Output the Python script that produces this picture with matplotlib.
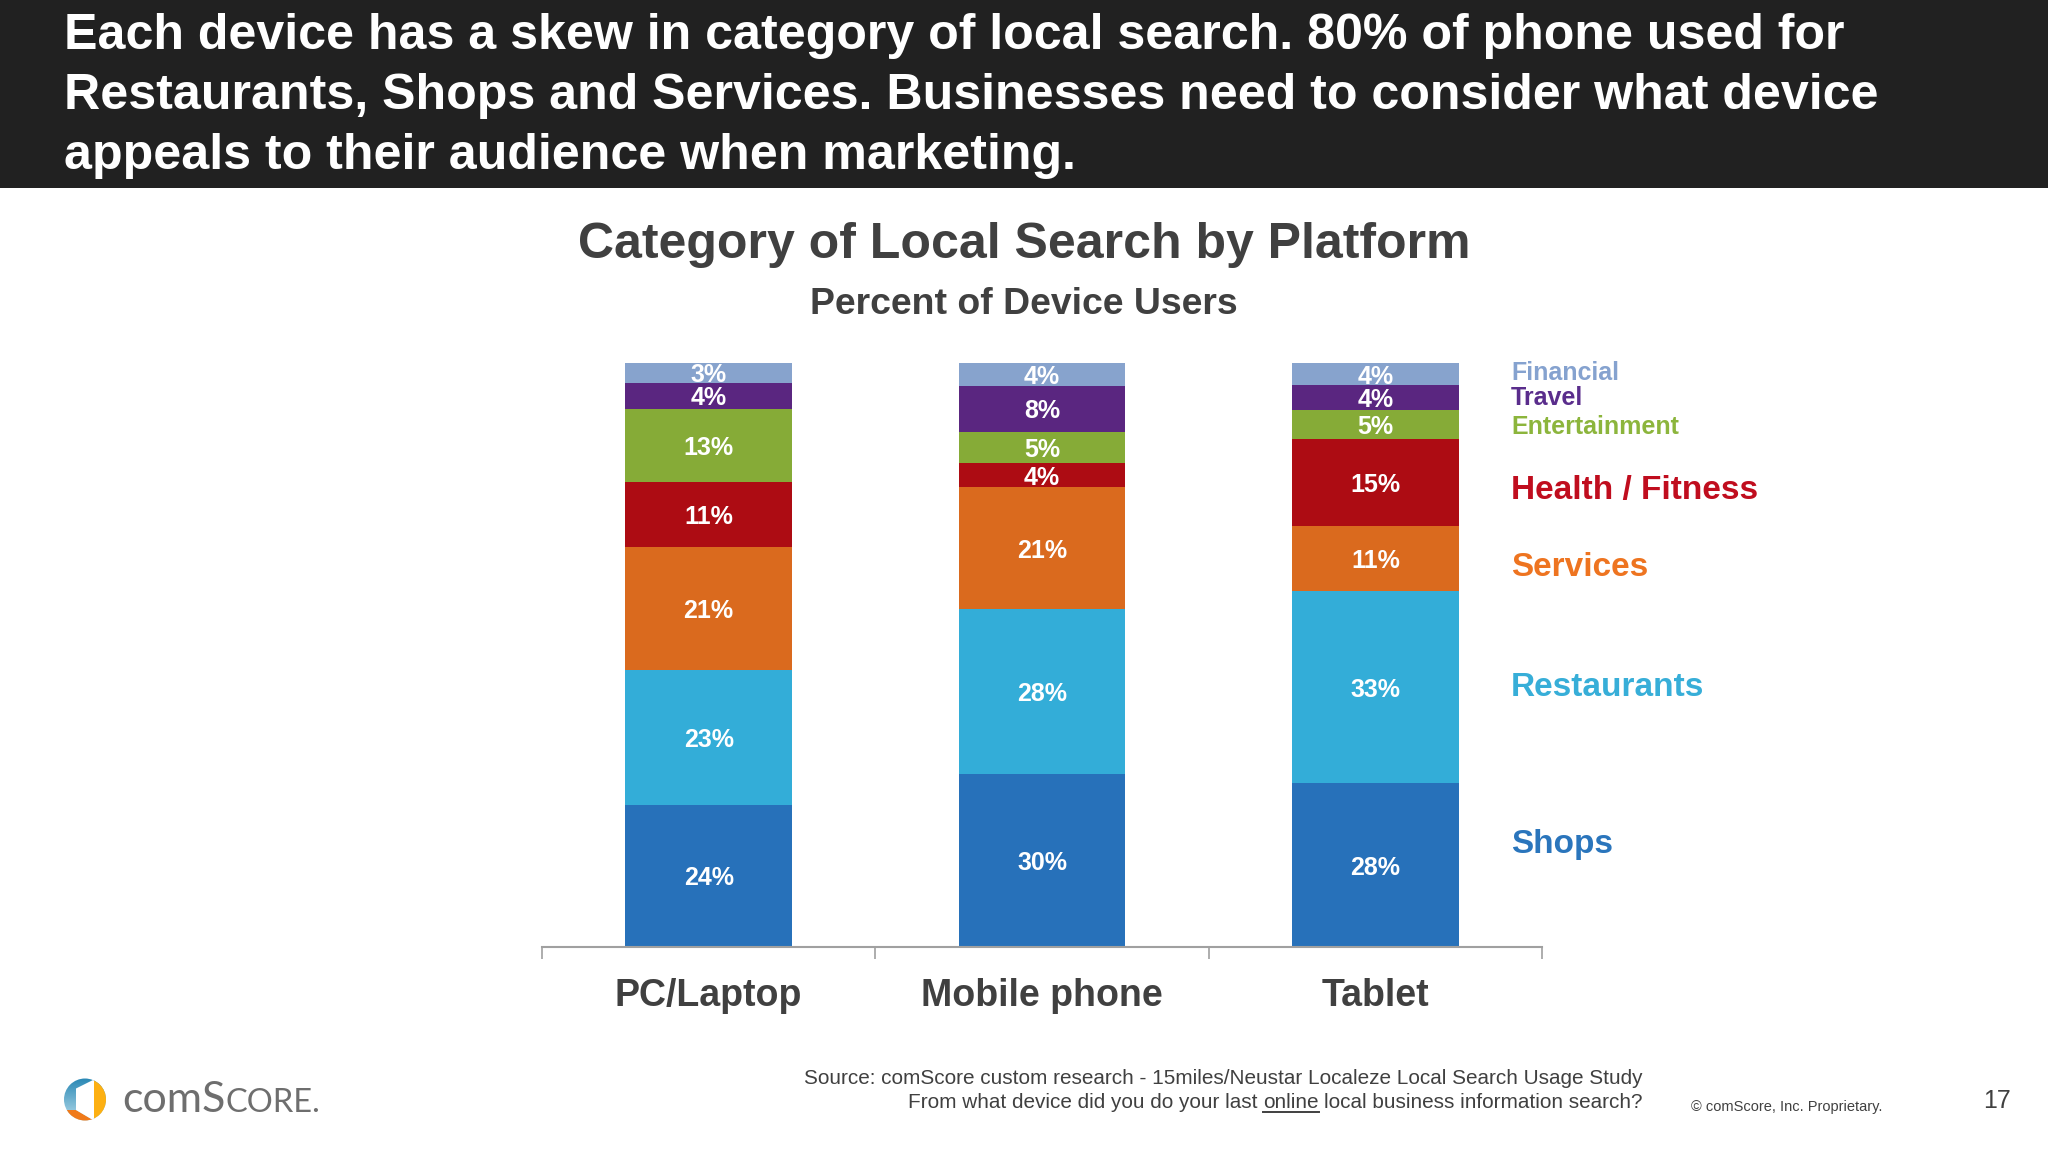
import numpy as np
import matplotlib
matplotlib.use('Agg')
import matplotlib.pyplot as plt
from matplotlib.colors import LinearSegmentedColormap
from matplotlib.patches import Circle, Polygon, Rectangle

W, H = 2048, 1152

# chart data, bottom segment first
platforms = ['PC/Laptop', 'Mobile phone', 'Tablet']
shops = [24.4, 29.6, 28.0]
restaurants = [23.0, 28.2, 33.0]
services = [21.1, 20.9, 11.1]
health = [11.1, 4.2, 14.9]
entertainment = [12.5, 5.3, 5.0]
travel = [4.5, 7.9, 4.2]
financial = [3.4, 3.9, 3.8]

# printed labels (source percentages are rounded)
shops_labels = ['24%', '30%', '28%']
restaurants_labels = ['23%', '28%', '33%']
services_labels = ['21%', '21%', '11%']
health_labels = ['11%', '4%', '15%']
entertainment_labels = ['13%', '5%', '5%']
travel_labels = ['4%', '8%', '4%']
financial_labels = ['3%', '4%', '4%']

headline = ['Each device has a skew in category of local search. 80% of phone used for',
            'Restaurants, Shops and Services. Businesses need to consider what device',
            'appeals to their audience when marketing.']

plt.rcParams['font.family'] = ['Liberation Sans', 'DejaVu Sans']

fig = plt.figure(figsize=(W / 100, H / 100), dpi=100, facecolor='white')

# full-slide axes in pixels for everything that isn't the chart
bg = fig.add_axes([0, 0, 1, 1])
bg.set_xlim(0, W)
bg.set_ylim(H, 0)
bg.axis('off')

bg.add_patch(Rectangle((0, 0), W, 188, color='#212121', lw=0))
for line, y in zip(headline, [49, 109, 169]):
    bg.text(64, y, line, color='white', fontsize=36.1, fontweight='bold', va='baseline')

bg.text(1024, 245, 'Category of Local Search by Platform', color='#404040',
        fontsize=36, fontweight='bold', ha='center', va='center')
bg.text(1024, 305, 'Percent of Device Users', color='#404040',
        fontsize=26.9, fontweight='bold', ha='center', va='center')

# stacked bars
ax = fig.add_axes([542 / W, 1 - 947 / H, 1000 / W, 584 / H])
ax.patch.set_alpha(0)
series = [
    (shops, shops_labels, '#2771BA'),
    (restaurants, restaurants_labels, '#33ADD8'),
    (services, services_labels, '#DA6A1E'),
    (health, health_labels, '#AD0C13'),
    (entertainment, entertainment_labels, '#86AB37'),
    (travel, travel_labels, '#5A2680'),
    (financial, financial_labels, '#87A3CD'),
]
x = np.arange(len(platforms))
bottom = np.zeros(len(platforms))
for values, labels, color in series:
    bars = ax.bar(x, values, width=0.5, bottom=bottom, color=color)
    texts = ax.bar_label(bars, labels=labels, label_type='center', color='white',
                         fontsize=18, fontweight='bold')
    # labels sit a little below the segment centre on the slide
    for t in texts:
        t.xyann = (0, -1.8)
    bottom += np.array(values)

ax.set_xlim(-0.5, 2.5)
ax.set_ylim(0, 100)
for side in ['top', 'left', 'right']:
    ax.spines[side].set_visible(False)
ax.spines['bottom'].set_color('#A0A0A0')
ax.spines['bottom'].set_linewidth(1.5)
ax.set_yticks([])
ax.set_xticks(x)
ax.set_xticklabels(platforms, fontsize=27, fontweight='bold', color='#404040')
ax.set_xticks([-0.5, 0.5, 1.5, 2.5], minor=True)
ax.tick_params(axis='x', which='major', length=0, pad=22)
ax.tick_params(axis='x', which='minor', length=8.5, width=1.2, color='#A0A0A0')

# direct labels instead of a legend
legend_items = [
    ('Financial', 373, 18, '#85A2CF'),
    ('Travel', 398, 18, '#5A2D8C'),
    ('Entertainment', 427, 18, '#8CB53C'),
    ('Health / Fitness', 490, 24, '#C00D1E'),
    ('Services', 567, 24, '#EE7420'),
    ('Restaurants', 688, 24, '#37AED8'),
    ('Shops', 844, 24, '#2A75BC'),
]
for name, y, size, color in legend_items:
    bg.text(1511, y, name, color=color, fontsize=size, fontweight='bold', va='center')

# footer
foot = '#404040'
bg.text(1643, 1079, 'Source: comScore custom research - 15miles/Neustar Localeze Local Search Usage Study',
        color=foot, fontsize=14.95, ha='right', va='center')

# second source line is built in pieces so "online" can be underlined
fig.canvas.draw()
renderer = fig.canvas.get_renderer()
y_line = 1103
tail = bg.text(1643, y_line, 'local business information search?', color=foot, fontsize=14.95, ha='right', va='center')
tail_left = tail.get_window_extent(renderer).x0
online = bg.text(tail_left - 6, y_line, 'online', color=foot, fontsize=14.95, ha='right', va='center')
box = online.get_window_extent(renderer)
bg.text(box.x0 - 6, y_line, 'From what device did you do your last', color=foot, fontsize=14.95, ha='right', va='center')
bg.plot([box.x0, box.x1], [y_line + 9, y_line + 9], color=foot, lw=1.4)

bg.text(1691, 1107, '© comScore, Inc. Proprietary.', color=foot, fontsize=10.55, va='center')
bg.text(2011, 1101, '17', color=foot, fontsize=18, ha='right', va='center')

# logo
clip = Circle((85, 1099.5), 21, transform=bg.transData)
blues = LinearSegmentedColormap.from_list('logo', ['#2A88B5', '#B5DCEB'])
grad = bg.imshow(np.linspace(0, 1, 64).reshape(-1, 1), extent=(64, 106, 1121, 1078),
                 cmap=blues, aspect='auto', zorder=2)
grad.set_clip_path(clip)
orange = Polygon([(60, 1110), (76, 1110), (93, 1120), (93, 1125), (60, 1125)], color='#F07A1A', lw=0, zorder=3)
yellow = Rectangle((94, 1075), 14, 50, color='#FDB012', lw=0, zorder=3)
page = Polygon([(94, 1075), (93, 1080), (76, 1088.5), (76, 1110), (93, 1120), (94, 1125)], color='white', lw=0, zorder=4)
for patch in [orange, yellow, page]:
    bg.add_patch(patch)
    patch.set_clip_path(clip)
bg.set_xlim(0, W)
bg.set_ylim(H, 0)

grey = '#6E6E6E'
com = bg.text(122, 1112, 'comS', color=grey, fontsize=31, family='Lato', va='baseline')
com_right = com.get_window_extent(renderer).x1
bg.text(com_right, 1112, 'CORE.', color=grey, fontsize=23.5, family='Lato', va='baseline')

fig.savefig('out.png', dpi=100)
